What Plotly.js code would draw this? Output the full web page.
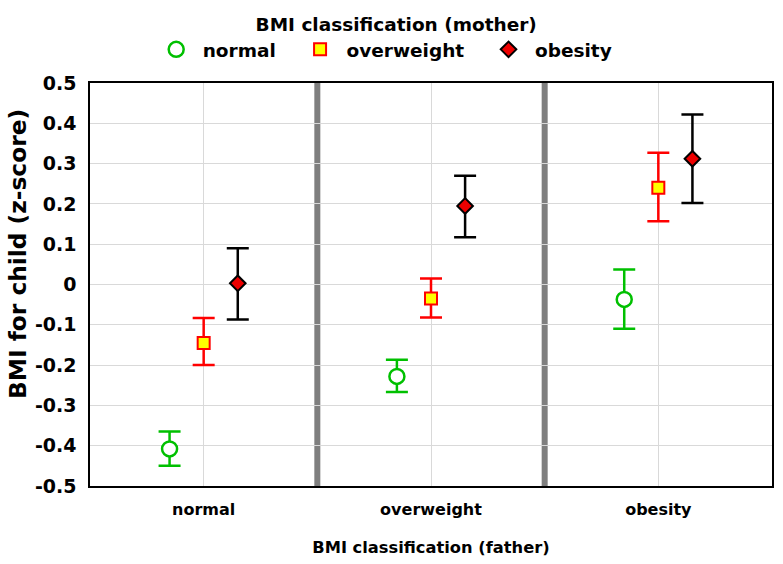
<!DOCTYPE html>
<html><head><meta charset="utf-8">
<script src="https://cdn.plot.ly/plotly-3.0.1.min.js"></script>
<style>body{margin:0;background:#fff}#c{width:783px;height:564px}</style>
</head><body><div id="c"></div>
<script>
const fatherCats = ['normal', 'overweight', 'obesity'];
const motherCats = ['normal', 'overweight', 'obesity'];
const meanNormal = [-0.408, -0.228, -0.037];
const upNormal   = [-0.365, -0.187, 0.037];
const lowNormal  = [-0.450, -0.267, -0.110];
const meanOver   = [-0.145, -0.035, 0.240];
const upOver     = [-0.083, 0.015, 0.327];
const lowOver    = [-0.200, -0.082, 0.157];
const meanObes   = [0.003, 0.195, 0.312];
const upObes     = [0.090, 0.270, 0.422];
const lowObes    = [-0.087, 0.117, 0.202];
const yTicks = [-0.5, -0.4, -0.3, -0.2, -0.1, 0, 0.1, 0.2, 0.3, 0.4, 0.5];
const yTickText = ['-0.5', '-0.4', '-0.3', '-0.2', '-0.1', '0', '0.1', '0.2', '0.3', '0.4', '0.5'];

const offsets = [-0.15, 0, 0.15];
const colors = ['#00c000', '#ff0000', '#000000'];
const means = [meanNormal, meanOver, meanObes];
const ups = [upNormal, upOver, upObes];
const lows = [lowNormal, lowOver, lowObes];
const markers = [
  {symbol: 'circle', size: 15, color: '#ffffff', line: {color: '#00c000', width: 2.5}},
  {symbol: 'square', size: 12, color: '#ffff00', line: {color: '#ff0000', width: 2}},
  {symbol: 'diamond', size: 12, color: '#ee0000', line: {color: '#000000', width: 2}}
];
const font = 'DejaVu Sans, sans-serif';
const pad = s => '\u00a0' + s + '\u00a0\u00a0\u00a0';
const traces = motherCats.map((m, i) => ({
  type: 'scatter', mode: 'markers', name: pad(m),
  x: fatherCats.map((_, j) => j + offsets[i]),
  y: means[i],
  error_y: {type: 'data', symmetric: false,
    array: means[i].map((v, j) => ups[i][j] - v),
    arrayminus: means[i].map((v, j) => v - lows[i][j]),
    color: colors[i], thickness: 2.5, width: 11},
  marker: markers[i]
}));
const layout = {
  width: 783, height: 564,
  margin: {l: 90, r: 11, t: 83, b: 78},
  paper_bgcolor: '#fff', plot_bgcolor: '#fff',
  font: {family: font, color: '#000', size: 18, weight: 'bold'},
  showlegend: true,
  legend: {orientation: 'h', xref: 'container', yref: 'container',
    x: 0.506, xanchor: 'center', y: 0.988, yanchor: 'top',
    font: {family: font, size: 18.5, weight: 'bold'},
    title: {text: 'BMI classification (mother)', side: 'top center', font: {family: font, size: 18.5, weight: 'bold'}},
    bgcolor: 'rgba(0,0,0,0)'},
  xaxis: {range: [-0.5, 2.5], tickvals: [0, 1, 2], ticktext: fatherCats, tickangle: 0,
    showgrid: true, gridcolor: '#d9d9d9', gridwidth: 1,
    showline: true, linecolor: '#000', linewidth: 1.5, mirror: true,
    ticks: '', zeroline: false, automargin: false, ticklabelstandoff: 8,
    tickfont: {family: font, size: 16, weight: 'bold'},
    title: {text: 'BMI classification (father)', font: {family: font, size: 16.3, weight: 'bold'}, standoff: 24}},
  yaxis: {range: [-0.5, 0.5], automargin: false,
    tickvals: yTicks, ticktext: yTickText,
    showgrid: true, gridcolor: '#d9d9d9', gridwidth: 1,
    showline: true, linecolor: '#000', linewidth: 1.5, mirror: true,
    ticks: '', zeroline: false, ticklabelstandoff: 8,
    tickfont: {family: font, size: 19, weight: 'bold'}},
  annotations: [{text: 'BMI for child (z-score)', textangle: -90, xref: 'paper', yref: 'paper',
    x: (17 - 90) / 682, y: (486 - 254) / 403, xanchor: 'center', yanchor: 'middle', showarrow: false,
    font: {family: font, size: 23.3, weight: 'bold'}}]
};
layout.shapes = [0.5, 1.5].map(v => ({type: 'line', xref: 'x', yref: 'paper',
    x0: v, x1: v, y0: 0, y1: 1, line: {color: '#7f7f7f', width: 6}, layer: 'below'}));
Plotly.newPlot('c', traces, layout, {displayModeBar: false});
</script></body></html>
